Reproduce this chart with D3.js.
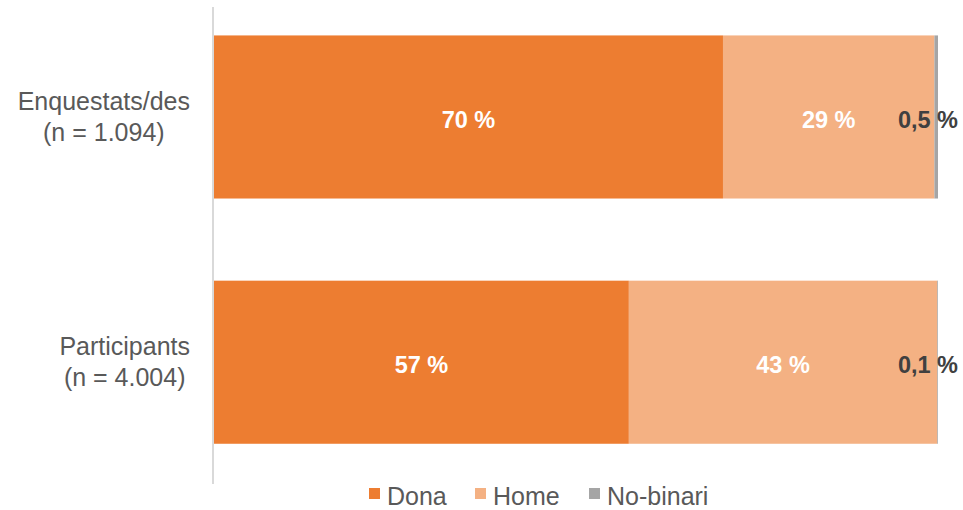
<!DOCTYPE html>
<html>
<head>
<meta charset="utf-8">
<script src="https://cdn.jsdelivr.net/npm/d3@7"></script>
<style>
  html, body { margin: 0; padding: 0; background: #fff; }
  svg { display: block; }
</style>
</head>
<body>
<svg id="chart" width="963" height="510"></svg>
<script>
// ---- data ----
const categories = [["Enquestats/des", "(n = 1.094)"], ["Participants", "(n = 4.004)"]];
const seriesNames = ["Dona", "Home", "No-binari"];
const dona = [70.3, 57.3];
const home = [29.2, 42.6];
const noBinari = [0.5, 0.1];
const colors = ["#ED7D31", "#F4B183", "#A5A5A5"];

const rows = categories.map((c, i) => ({ key: c.join(" "), lines: c, "Dona": dona[i], "Home": home[i], "No-binari": noBinari[i] }));

const svg = d3.select("#chart");
const font = "'Liberation Sans', Arial, Helvetica, sans-serif";

const x = d3.scaleLinear().domain([0, 100]).range([214, 938]);
const y = d3.scaleBand().domain(rows.map(r => r.key)).range([7, 484])
  .paddingInner(0.335).paddingOuter(0.14).align(0.414);

const stack = d3.stack().keys(seriesNames)(rows);
const color = d3.scaleOrdinal().domain(seriesNames).range(colors);

const fmt = v => v < 1 ? String(v).replace(".", ",") + " %" : Math.round(v) + " %";

// bars
const g = svg.append("g");
stack.forEach((layer) => {
  g.selectAll(null).data(layer).enter().append("rect")
    .attr("x", d => x(d[0]))
    .attr("y", d => y(d.data.key))
    .attr("width", d => x(d[1]) - x(d[0]))
    .attr("height", y.bandwidth())
    .attr("fill", color(layer.key));
});

// axis line (category axis)
svg.append("line")
  .attr("x1", x(0) - 1).attr("x2", x(0) - 1)
  .attr("y1", y.range()[0]).attr("y2", y.range()[1])
  .attr("stroke", "#D9D9D9").attr("stroke-width", 2);

// data labels
stack.forEach((layer, li) => {
  g.selectAll(null).data(layer).enter().append("text")
    .attr("x", d => li === 2 ? x(100) + 20 : (x(d[0]) + x(d[1])) / 2)
    .attr("y", d => y(d.data.key) + y.bandwidth() / 2 + 3)
    .attr("text-anchor", li === 2 ? "end" : "middle")
    .attr("dominant-baseline", "central")
    .attr("font-family", font)
    .attr("font-weight", "bold")
    .attr("font-size", 23.5)
    .attr("fill", li === 2 ? "#404040" : "#FFFFFF")
    .text(d => fmt(d.data[layer.key]));
});

// category labels
rows.forEach(r => {
  const cy = y(r.key) + y.bandwidth() / 2;
  const t = svg.append("text")
    .attr("font-family", font).attr("font-size", 25).attr("fill", "#595959")
    .attr("text-anchor", "middle");
  r.lines.forEach((ln, i) => {
    t.append("tspan").attr("y", cy - 7 + i * 31).text(ln);
  });
  let maxW = 0;
  t.selectAll("tspan").each(function () { maxW = Math.max(maxW, this.getComputedTextLength()); });
  t.selectAll("tspan").attr("x", 190 - maxW / 2);
});

// legend
const legendX = [369, 475, 589];
const lg = svg.append("g");
seriesNames.forEach((s, i) => {
  const it = lg.append("g");
  it.append("rect").attr("x", legendX[i]).attr("y", 488).attr("width", 11).attr("height", 11).attr("fill", color(s));
  it.append("text").attr("x", legendX[i] + 18).attr("y", 505)
    .attr("font-family", font).attr("font-size", 25).attr("fill", "#595959").text(s);
});
</script>
</body>
</html>
